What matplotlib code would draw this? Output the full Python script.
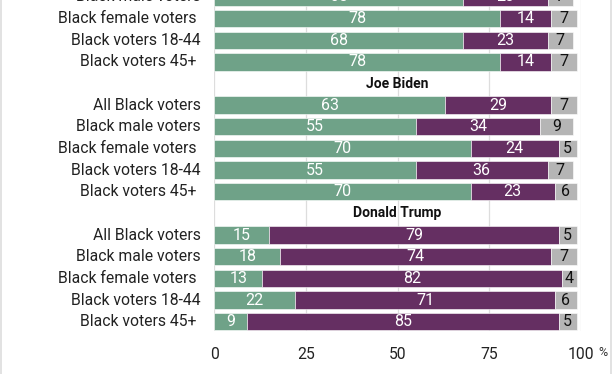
import matplotlib
matplotlib.use("Agg")
import matplotlib.pyplot as plt
from matplotlib.lines import Line2D

plt.rcParams['font.family'] = ['Roboto', 'DejaVu Sans']

# Data (top to bottom); heading rows flagged
labels = ["Black male voters", "Black female voters ", "Black voters 18-44", "Black voters 45+ ",
          "Joe Biden",
          "All Black voters", "Black male voters", "Black female voters ", "Black voters 18-44", "Black voters 45+ ",
          "Donald Trump",
          "All Black voters", "Black male voters", "Black female voters ", "Black voters 18-44", "Black voters 45+ "]
is_heading = [False, False, False, False, True,
              False, False, False, False, False, True,
              False, False, False, False, False]
favorable = [68, 78, 68, 78, None, 63, 55, 70, 55, 70, None, 15, 18, 13, 22, 9]
unfavorable = [23, 14, 23, 14, None, 29, 34, 24, 36, 23, None, 79, 74, 82, 71, 85]
no_opinion = [7, 7, 7, 7, None, 7, 9, 5, 7, 6, None, 5, 7, 4, 6, 5]
xticks = [0, 25, 50, 75, 100]

GREEN = "#6fa288"
PURPLE = "#652f62"
GRAY = "#b5b5b5"

W, H = 612, 374
fig = plt.figure(figsize=(W / 100, H / 100), dpi=100)
ylo, yhi = -0.45, 15.6
row_px = 21.65
bottom_px = 42.6
ax_h = (yhi - ylo) * row_px
ax = fig.add_axes([214.5 / W, bottom_px / H, 366 / W, ax_h / H])

n = len(labels)
ypos = [n - 1 - i for i in range(n)]

for y, lab, hd, f, u, o in zip(ypos, labels, is_heading, favorable, unfavorable, no_opinion):
    if hd:
        ax.text(50, y, lab, ha="center", va="center", fontsize=10, fontweight="bold", color="#111111")
        continue
    ax.barh(y, f, left=0, height=0.8, color=GREEN, edgecolor="white", linewidth=0.4)
    ax.barh(y, u, left=f, height=0.8, color=PURPLE, edgecolor="white", linewidth=0.4)
    ax.barh(y, o, left=f + u, height=0.8, color=GRAY, edgecolor="white", linewidth=0.4)
    ax.text(f / 2, y, str(f), ha="center", va="center", color="white", fontsize=11.5)
    ax.text(f + u / 2, y, str(u), ha="center", va="center", color="white", fontsize=11.5)
    ax.text(f + u + o / 2, y, str(o), ha="center", va="center", color="#111111", fontsize=11.5)
    ax.text(-3.8, y, lab, ha="right", va="center", color="#222222", fontsize=11.3)

ax.set_xlim(0, 100)
ax.set_ylim(ylo, yhi)
ax.set_yticks([])
ax.set_xticks(xticks)
ax.set_xticklabels([str(t) for t in xticks], fontsize=11.3, color="#222222")
ax.tick_params(axis="x", length=0, pad=11)
ax.grid(axis="x", color="#dddddd", linewidth=0.9)
ax.set_axisbelow(True)
for s in ax.spines.values():
    s.set_visible(False)
ax.annotate("%", xy=(100, 0), xycoords=("data", "axes fraction"), xytext=(22, -21),
            textcoords="offset pixels", ha="center", va="center", fontsize=9, color="#333333")

# light frame lines at left and right of the figure
fig.add_artist(Line2D([1 / W, 1 / W], [0, 1], transform=fig.transFigure, color="#dddddd", linewidth=1.2))
fig.add_artist(Line2D([610.5 / W, 610.5 / W], [0, 1], transform=fig.transFigure, color="#dddddd", linewidth=1.2))

fig.savefig("out.png", dpi=100)
